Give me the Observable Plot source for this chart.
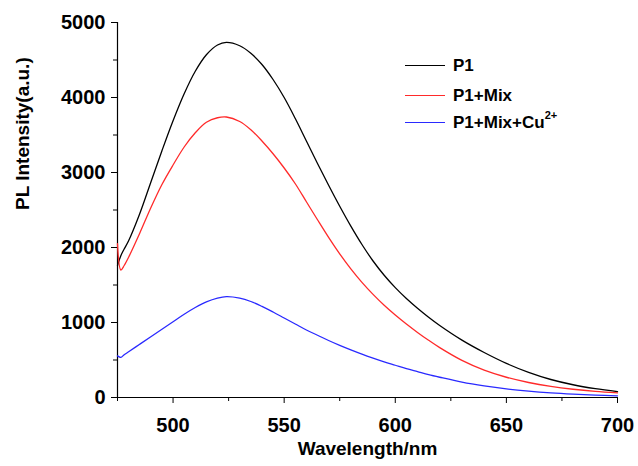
<!DOCTYPE html>
<html><head><meta charset="utf-8">
<script src="https://cdn.jsdelivr.net/npm/d3@7"></script>
<script src="https://cdn.jsdelivr.net/npm/@observablehq/plot@0.6"></script>
<style>
body{margin:0;background:#fff;}
#wrap{position:relative;width:638px;height:466px;font-family:"Liberation Sans",Arial,sans-serif;}
#legend{position:absolute;left:405px;top:56px;font-weight:bold;font-size:17px;color:#000;}
#legend .row{position:relative;line-height:20px;white-space:nowrap;}
#legend .sw{display:inline-block;width:40px;height:1.5px;vertical-align:middle;margin-right:8px;position:relative;top:-1px;}
#legend sup{font-size:11px;line-height:0;position:relative;top:-2px;vertical-align:super;}
</style></head>
<body><div id="wrap"></div>
<script>
const wavelength = [475,476.5,478,480,485,490,495,500,505,510,515,520,524,530,535,540,545,550,555,560,565,570,575,580,585,590,595,600,605,610,615,620,630,640,650,660,670,680,690,700];
const p1 =        [1760,1890,1980,2090,2450,2870,3290,3690,4050,4350,4570,4700,4735,4690,4590,4440,4240,4000,3720,3420,3120,2830,2550,2285,2040,1820,1630,1465,1320,1190,1070,960,765,600,455,335,240,170,118,78];
const p1Mix =     [2050,1700,1760,1870,2190,2530,2840,3100,3340,3530,3670,3730,3740,3680,3570,3420,3250,3060,2850,2610,2370,2135,1915,1715,1535,1375,1230,1100,980,868,763,665,495,365,270,200,148,110,82,62];
const p1MixCu =   [555,535,570,610,710,810,910,1010,1110,1200,1275,1325,1345,1325,1280,1215,1140,1060,980,900,830,760,695,635,578,525,475,430,385,345,305,270,205,155,115,85,62,45,32,22];
const seriesNames = ["P1","P1+Mix","P1+Mix+Cu2+"];
const seriesColors = ["#000000","#ff2a2a","#2a2aff"];
const xMajor = [500,550,600,650,700];
const xMinor = [475,525,575,625,675];
const yMajor = [0,1000,2000,3000,4000,5000];
const yMinor = [500,1500,2500,3500,4500];
const xLabel = "Wavelength/nm";
const yLabel = "PL Intensity(a.u.)";

const allSeries = [p1, p1Mix, p1MixCu];
const rows = [];
allSeries.forEach((vals, s) => vals.forEach((v, i) => rows.push({wl: wavelength[i], v, s: seriesNames[s]})));

const font = {fontSize: 20, fontWeight: "bold", fontFamily: "Liberation Sans, Arial, sans-serif"};

const chart = Plot.plot({
  width: 638, height: 466,
  marginLeft: 117, marginRight: 21, marginTop: 22, marginBottom: 69,
  style: {background: "#fff", color: "#000", fontFamily: "Liberation Sans, Arial, sans-serif"},
  x: {domain: [475, 700]},
  y: {domain: [0, 5000]},
  color: {domain: seriesNames, range: seriesColors},
  marks: [
    Plot.ruleX([475], {stroke: "#000", strokeWidth: 1.2}),
    Plot.ruleY([0], {stroke: "#000", strokeWidth: 1.2}),
    Plot.axisX({ticks: xMajor, tickSize: 6, tickPadding: 14, tickFormat: d => String(d), label: null, ...font, stroke: "#000"}),
    Plot.axisX({ticks: xMinor, tickSize: 4, tickFormat: () => "", label: null, stroke: "#000"}),
    Plot.axisY({ticks: yMajor, tickSize: 6, tickPadding: 6, tickFormat: d => String(d), label: null, ...font, stroke: "#000"}),
    Plot.axisY({ticks: yMinor, tickSize: 4, tickFormat: () => "", label: null, stroke: "#000"}),
    Plot.line(rows, {x: "wl", y: "v", z: "s", stroke: "s", strokeWidth: 1.3, curve: "catmull-rom"}),
    Plot.text([xLabel], {frameAnchor: "bottom", dy: 57, ...font, fontSize: 19, letterSpacing: 0.9}),
    Plot.text([yLabel], {frameAnchor: "left", rotate: -90, dx: -95, ...font, fontSize: 19})
  ]
});
const wrap = document.getElementById("wrap");
wrap.appendChild(chart);

const legend = document.createElement("div");
legend.id = "legend";
const rowHeights = [30, 27, 27];
seriesNames.forEach((name, i) => {
  const row = document.createElement("div");
  row.className = "row";
  row.style.height = rowHeights[i] + "px";
  const sw = document.createElement("span");
  sw.className = "sw";
  sw.style.background = seriesColors[i];
  row.appendChild(sw);
  const t = document.createElement("span");
  const m = name.match(/^(.*Cu)(2\+)$/);
  if (m) {
    t.appendChild(document.createTextNode(m[1]));
    const sup = document.createElement("sup");
    sup.textContent = m[2];
    t.appendChild(sup);
  } else t.textContent = name;
  row.appendChild(t);
  legend.appendChild(row);
});
wrap.appendChild(legend);
</script>
</body></html>
